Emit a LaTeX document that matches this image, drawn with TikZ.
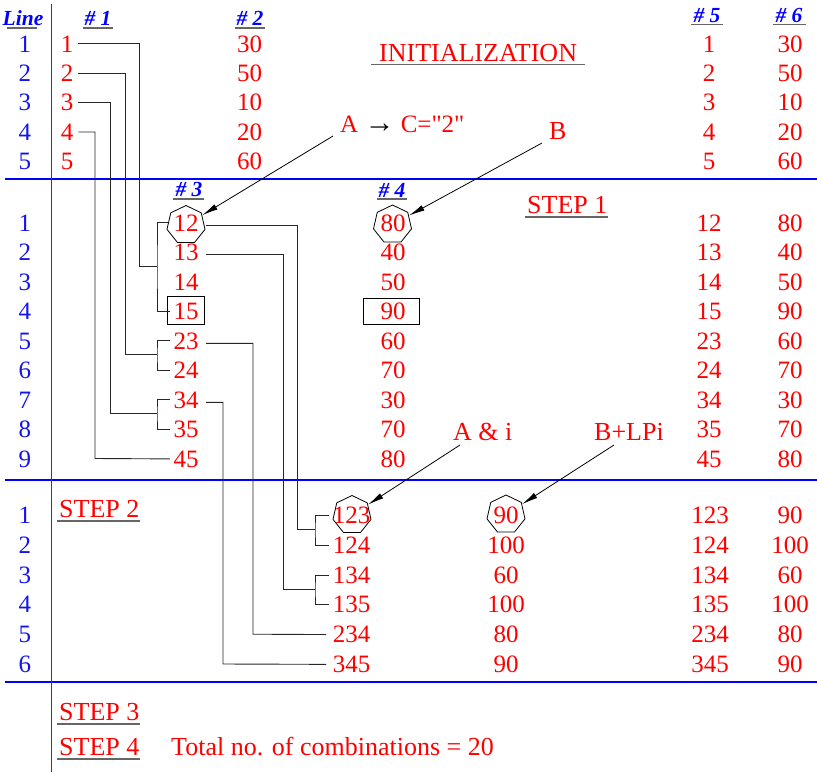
\documentclass[tikz,border=0pt]{standalone}
\usepackage{fontspec}
\setmainfont{Liberation Serif}
\newfontfamily\rawserif{Liberation Serif}
\usetikzlibrary{shapes.geometric,arrows.meta}
\definecolor{tred}{RGB}{255,0,0}
\definecolor{tblue}{RGB}{0,0,255}
\definecolor{lnblue}{RGB}{20,20,235}
\begin{document}
\begin{tikzpicture}[x=1pt,y=-1pt,
  txt/.style={font=\fontsize{25}{30}\selectfont, text=tred, inner sep=0pt, anchor=base},
  lnum/.style={txt, text=lnblue},
  hdr/.style={font=\fontsize{21.5}{26}\selectfont\bfseries\itshape, text=tblue, inner sep=0pt, anchor=base},
  lbl/.style={font=\fontsize{26}{30}\selectfont, text=tred, inner sep=0pt, anchor=base west},
  uline/.style={draw=black!60, line width=1.3pt},
  sepline/.style={draw=tblue, line width=2pt},
  vline/.style={draw=black!75, line width=1pt},
  conn/.style={draw=black!85, line width=0.9pt},
  hept/.style={draw, regular polygon, regular polygon sides=7, minimum size=39pt, inner sep=0pt, line width=0.8pt},
  pbox/.style={draw, inner sep=0pt, line width=0.9pt},
  lead/.style={draw, line width=0.8pt, -{Latex[length=16pt,width=6pt]}}]
\path[use as bounding box] (0,0) rectangle (817,772);

% separators
\draw[sepline] (5,179) -- (817,179);
\draw[sepline] (5,480) -- (817,480);
\draw[sepline] (5,682) -- (817,682);
\draw[vline] (51,4) -- (51,772);

% headers
\node[hdr] (hLine) at (23,25) {Line};
\node[hdr] (hA) at (98,25) {\# 1};
\node[hdr] (hB) at (250,25) {\# 2};
\node[hdr] (hE) at (707,22) {\# 5};
\node[hdr] (hF) at (789,22) {\# 6};
\node[hdr] (hC) at (189,196.5) {\# 3};
\node[hdr] (hD) at (392,197) {\# 4};
\draw[uline] (7,28) -- (37,28);
\draw[uline] (83,28) -- (113,28);
\draw[uline] (235,28) -- (265,28);
\draw[uline] (691,24.5) -- (723,24.5);
\draw[uline] (773,24.5) -- (806,24.5);
\draw[uline] (173,199) -- (204,199);
\draw[uline] (377,199) -- (407,199);

% section titles
\node[lbl] (tInit) at (379,61) {INITIALIZATION};
\draw[uline] (371,64.5) -- (585,64.5);
\node[lbl] (tS1) at (527,213) {STEP 1};
\draw[uline] (525,217) -- (608,217);
\node[lbl] (tS2) at (59,517) {STEP 2};
\draw[uline] (57,521) -- (140,521);
\node[lbl] (tS3) at (59,720) {STEP 3};
\draw[uline] (57,724) -- (140,724);
\node[lbl] (tS4) at (59,755) {STEP 4};
\draw[uline] (57,759) -- (140,759);
\node[lbl] (tTot) at (171,755) {Total no. of combinations = 20};

% initialization rows
\foreach \b [count=\i] in {30,50,10,20,60}{
  \pgfmathsetmacro\yy{52+29.4*(\i-1)}
  \node[lnum] (n0-\i) at (25,\yy) {\i};
  \node[txt] (a0-\i) at (67,\yy) {\i};
  \node[txt] (b0-\i) at (249.5,\yy) {\b};
  \node[txt] (e0-\i) at (709,\yy) {\i};
  \node[txt] (f0-\i) at (790,\yy) {\b};
}

% step 1 rows
\foreach \p/\q [count=\i] in {12/80,13/40,14/50,15/90,23/60,24/70,34/30,35/70,45/80}{
  \pgfmathsetmacro\yy{231+29.5*(\i-1)}
  \node[lnum] (n1-\i) at (25,\yy) {\i};
  \node[txt] (s3-\i) at (186,\yy) {\p};
  \node[txt] (s4-\i) at (393,\yy) {\q};
  \node[txt] (s5-\i) at (709,\yy) {\p};
  \node[txt] (s6-\i) at (790,\yy) {\q};
}

% step 2 rows
\foreach \p/\q [count=\i] in {123/90,124/100,134/60,135/100,234/80,345/90}{
  \pgfmathsetmacro\yy{523.5+29.8*(\i-1)}
  \node[lnum] (n2-\i) at (25,\yy) {\i};
  \node[txt] (t3-\i) at (351.5,\yy) {\p};
  \node[txt] (t4-\i) at (506,\yy) {\q};
  \node[txt] (t5-\i) at (710,\yy) {\p};
  \node[txt] (t6-\i) at (790,\yy) {\q};
}

% marks
\node[hept] (g12) at (186,225) {};
\node[hept] (g80) at (392.5,224.5) {};
\node[hept] (g123) at (352,515) {};
\node[hept] (g90) at (506,514.5) {};
\node[pbox, minimum width=37pt, minimum height=28pt] (b15) at (185.5,310) {};
\node[pbox, minimum width=56pt, minimum height=26pt] (b90) at (391,311) {};

% connectors init -> step 1
\draw[conn] ([xshift=5pt]a0-1.east) -| (139,266.5) -- (157,266.5);
\draw[conn] ([xshift=-5.5pt]s3-1.west) -| (157,266.5) |- ([xshift=-3.5pt]s3-4.west);
\draw[conn] ([xshift=5pt]a0-2.east) -| (125,354.75) -- (157,354.75);
\draw[conn] ([xshift=-3.5pt]s3-5.west) -| (157,354.75) |- ([xshift=-3.5pt]s3-6.west);
\draw[conn] ([xshift=5pt]a0-3.east) -| (110,413.75) -- (157,413.75);
\draw[conn] ([xshift=-3.5pt]s3-7.west) -| (157,413.75) |- ([xshift=-3.5pt]s3-8.west);
\draw[conn] ([xshift=5pt]a0-4.east) -| (95,458.5) -- ([xshift=-3.5pt]s3-9.west);

% connectors step 1 -> step 2
\draw[conn] ([xshift=7.5pt,yshift=-2.5pt]s3-1.east) -| (297,529.9) -- (315,529.9);
\draw[conn] ([xshift=-4pt]t3-1.west) -| (315,529.9) |- ([xshift=-4pt]t3-2.west);
\draw[conn] ([xshift=7.5pt,yshift=-2.5pt]s3-2.east) -| (283,589.5) -- (315,589.5);
\draw[conn] ([xshift=-4pt]t3-3.west) -| (315,589.5) |- ([xshift=-4pt]t3-4.west);
\draw[conn] ([xshift=7.5pt,yshift=-2.5pt]s3-5.east) -| (253,634.2) -- ([xshift=-6.5pt]t3-5.west);
\draw[conn] ([xshift=7.5pt,yshift=-2.5pt]s3-7.east) -| (223,664) -- ([xshift=-6.5pt]t3-6.west);

% annotation labels and leaders
\node[lbl, font=\fontsize{25}{30}\selectfont\rawserif] (lA) at (340,132) {A {\color{black}\fontsize{30}{30}\selectfont→} C="2"};
\node[lbl] (lB) at (549,139) {B};
\node[lbl] (lAi) at (453,440) {A \& i};
\node[lbl] (lBL) at (594,440) {B+LPi};
\coordinate (pA) at (333,136);
\coordinate (pB) at (542,143);
\coordinate (pAi) at (460,445);
\coordinate (pBL) at (614,445);
\draw[lead] (pA) -- (g12);
\draw[lead] (pB) -- (g80);
\draw[lead] (pAi) -- (g123);
\draw[lead] (pBL) -- (g90);
\end{tikzpicture}
\end{document}
